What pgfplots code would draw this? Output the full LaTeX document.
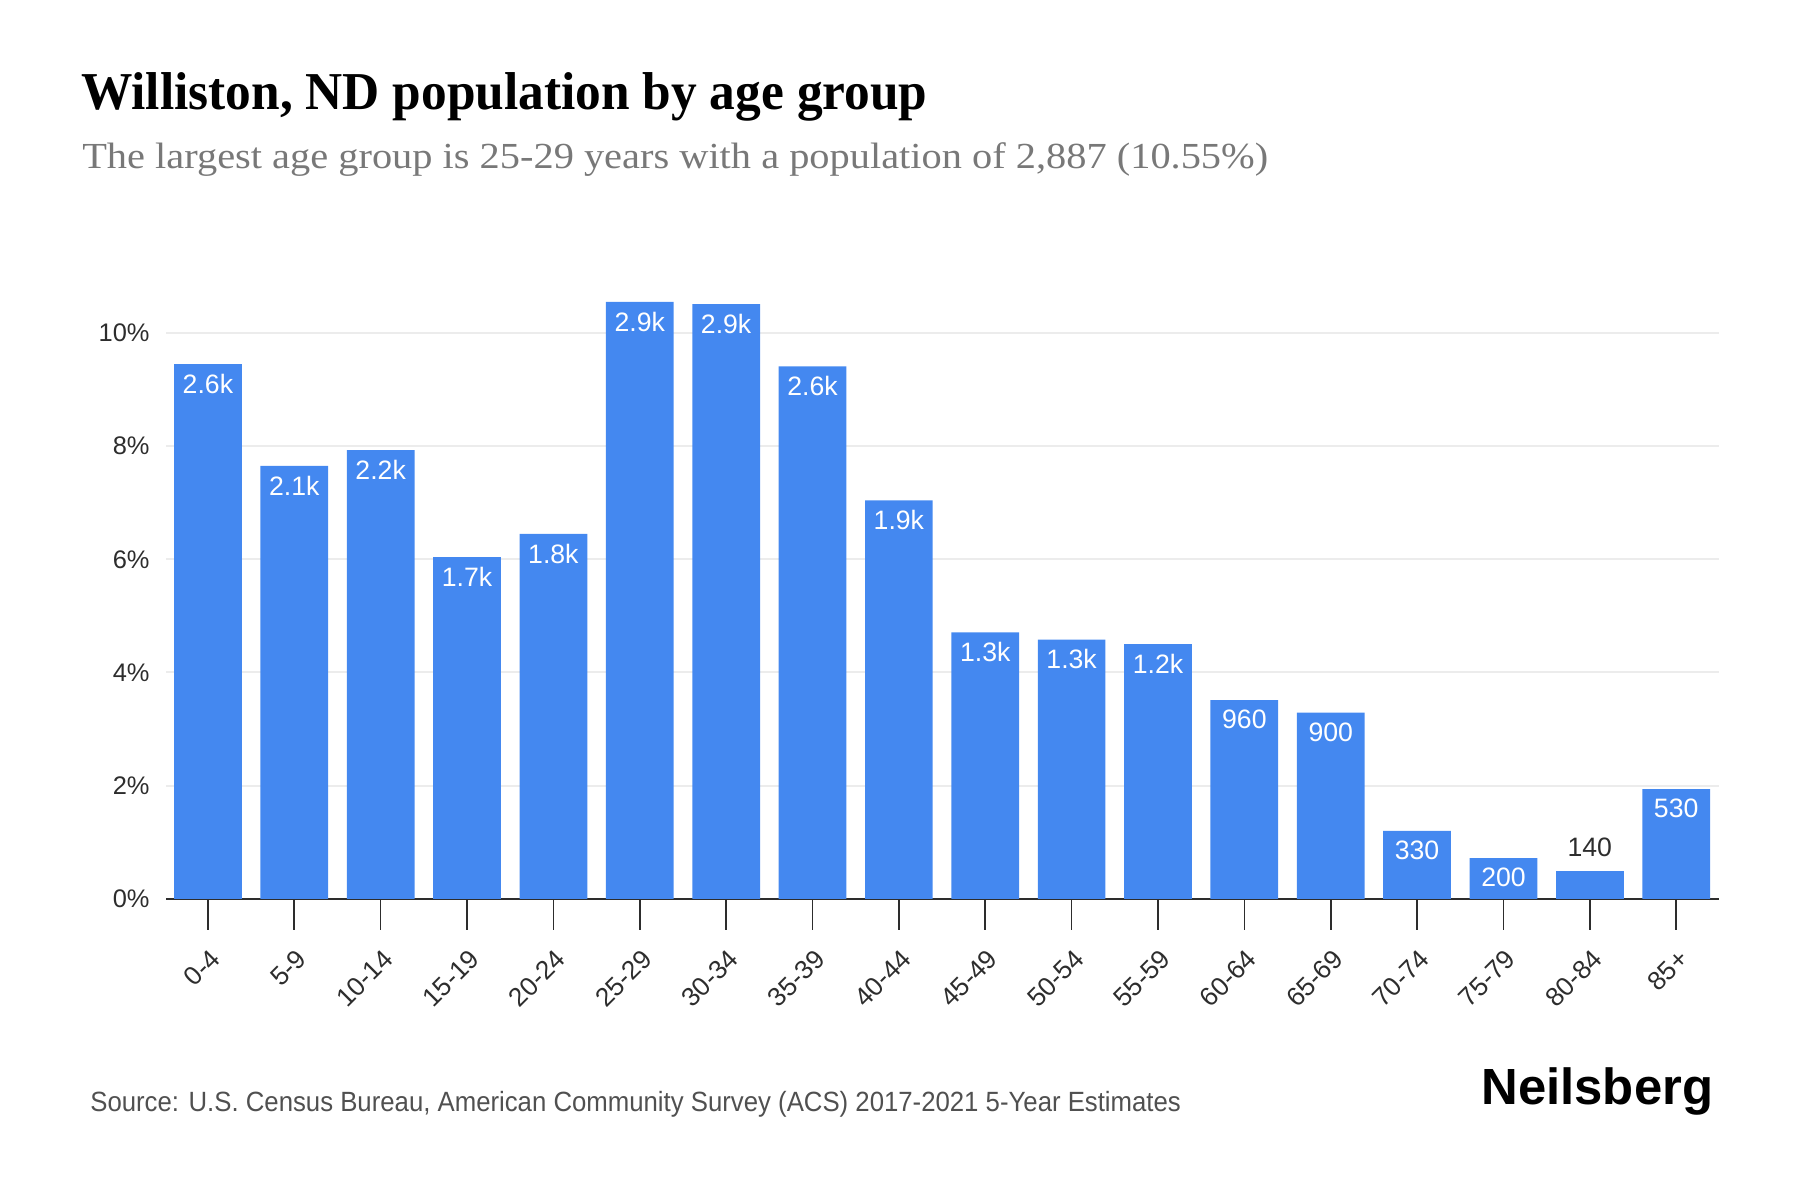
\documentclass[border=0pt]{standalone}
\usepackage{fontspec}
\setmainfont{Liberation Sans}
\newfontfamily\titlefont[FakeStretch=0.965]{Liberation Serif}
\newfontfamily\subfont[FakeStretch=1.1]{Liberation Serif}
\newfontfamily\srcfont[FakeStretch=0.925]{Liberation Sans}
\usepackage{pgfplots}
\pgfplotsset{compat=1.18}

\definecolor{barblue}{RGB}{68,136,240}
\definecolor{gridgray}{RGB}{236,236,236}
\definecolor{subgray}{RGB}{120,120,120}
\definecolor{srcgray}{RGB}{80,80,80}
\definecolor{txtdark}{RGB}{45,45,45}

\pgfplotstableread{
x y label
0 9.45 2.6k
1 7.65 2.1k
2 7.93 2.2k
3 6.04 1.7k
4 6.45 1.8k
5 10.55 2.9k
6 10.51 2.9k
7 9.41 2.6k
8 7.04 1.9k
9 4.71 1.3k
10 4.58 1.3k
11 4.50 1.2k
12 3.51 960
13 3.29 900
14 1.20 330
15 0.72 200
17 1.94 530
}\inside

\pgfplotstableread{
x y label
16 0.50 140
}\above

\begin{document}
\begin{tikzpicture}
\useasboundingbox (0,-0.5mm) rectangle (156.8mm,104mm);

\node[anchor=base west, inner sep=0pt, font=\titlefont\bfseries\fontsize{13.2pt}{15pt}\selectfont]
  at (7.0mm,94.46mm) {Williston, ND population by age group};
\node[anchor=base west, inner sep=0pt, text=subgray, font=\subfont\fontsize{9.1pt}{11pt}\selectfont]
  at (7.1mm,89.3mm) {The largest age group is 25-29 years with a population of 2,887 (10.55\%)};

\begin{axis}[
  at={(14.5mm,25.7mm)}, anchor=south west,
  scale only axis, width=135.2mm, height=54.23mm,
  xmin=-0.48, xmax=17.49, ymin=0, ymax=11,
  ybar, bar width=5.9mm, bar shift=0pt,
  axis x line*=bottom, axis y line*=left,
  y axis line style={draw=none},
  x axis line style={draw=txtdark, line width=0.5pt},
  ymajorgrids, grid style={draw=gridgray, line width=0.5pt},
  ytick={0,2,4,6,8,10},
  yticklabel={\pgfmathprintnumber{\tick}\%},
  ytick style={draw=none},
  xtick={0,...,17},
  xticklabels={0-4,5-9,10-14,15-19,20-24,25-29,30-34,35-39,40-44,45-49,50-54,55-59,60-64,65-69,70-74,75-79,80-84,85+},
  xtick align=outside, ytick align=inside,
  major tick length=2.7mm,
  xtick style={draw=txtdark, line width=0.4pt},
  yticklabel style={font=\fontsize{6.3pt}{7pt}\selectfont, text=txtdark, inner sep=0pt, anchor=east, xshift=-1.4mm},
  xticklabel style={font=\fontsize{6.5pt}{7pt}\selectfont, text=txtdark, inner sep=0pt, xshift=0.7mm, yshift=-2.1mm, rotate=45, anchor=east},
  /pgf/number format/assume math mode=true,
  point meta=explicit symbolic,
]
\addplot[fill=barblue, draw=none, nodes near coords,
  nodes near coords style={anchor=north, text=white, inner sep=0pt, yshift=-0.8mm, font=\fontsize{6.6pt}{7pt}\selectfont}]
  table[x=x, y=y, meta=label] {\inside};
\addplot[fill=barblue, draw=none, nodes near coords,
  nodes near coords style={anchor=south, text=txtdark, inner sep=0pt, yshift=1.1mm, font=\fontsize{6.6pt}{7pt}\selectfont}]
  table[x=x, y=y, meta=label] {\above};
\end{axis}

\node[anchor=base west, inner sep=0pt, text=srcgray, font=\srcfont\fontsize{6.9pt}{8pt}\selectfont]
  at (7.8mm,7.14mm) {Source: U.S. Census Bureau, American Community Survey (ACS) 2017-2021 5-Year Estimates};
\node[anchor=base east, inner sep=0pt, font=\bfseries\fontsize{12.6pt}{14pt}\selectfont]
  at (149.3mm,7.8mm) {Neilsberg};
\end{tikzpicture}
\end{document}
